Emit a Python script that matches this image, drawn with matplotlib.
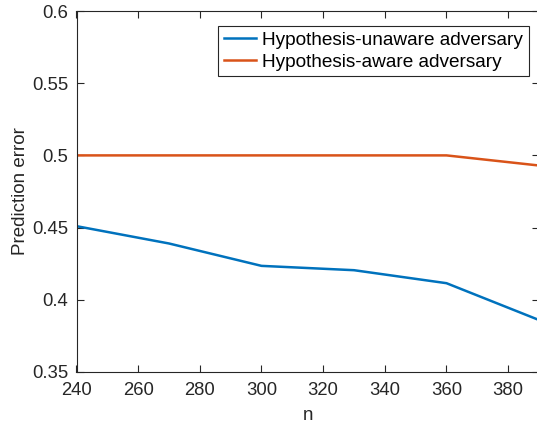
import matplotlib.pyplot as plt

# prediction error versus n for the two adversaries
n_vals = [240, 270, 300, 330, 360, 390]
err_unaware = [0.451, 0.439, 0.4235, 0.4205, 0.4115, 0.386]
err_aware = [0.5, 0.5, 0.5, 0.5, 0.5, 0.493]
labels = ["Hypothesis-unaware adversary", "Hypothesis-aware adversary"]

plt.rcParams['font.family'] = ['Liberation Sans', 'DejaVu Sans']
axis_col = (0.15, 0.15, 0.15)

fig = plt.figure(figsize=(5.37, 4.25), dpi=100)
ax = fig.add_axes([76.5/537, 1 - 372/425, (539 - 76.5)/537, (372 - 11)/425])

ax.plot(n_vals, err_unaware, color=(0, 0.447, 0.741), lw=1.8, label=labels[0])
ax.plot(n_vals, err_aware, color=(0.85, 0.325, 0.098), lw=1.8, label=labels[1])

ax.set_xlim(240, 390)
ax.set_ylim(0.35, 0.6)
ax.set_xticks(range(240, 390, 20))
ax.set_yticks([0.35, 0.4, 0.45, 0.5, 0.55, 0.6])
ax.set_yticklabels(["0.35", "0.4", "0.45", "0.5", "0.55", "0.6"])
ax.tick_params(direction='in', length=5, width=0.8, colors=axis_col,
               labelsize=13.3, top=True, right=True)
ax.tick_params(axis='x', pad=7)
ax.tick_params(axis='y', pad=6)
for s in ax.spines.values():
    s.set_color(axis_col)
    s.set_linewidth(0.8)

ax.set_xlabel("n", fontsize=13.5, color=axis_col, labelpad=6)
ax.set_ylabel("Prediction error", fontsize=13.5, color=axis_col, labelpad=2)

leg = ax.legend(loc='upper right', fontsize=13.7, handlelength=1.7,
                handletextpad=0.3, borderpad=0.3, labelspacing=0.22,
                borderaxespad=0, fancybox=False, framealpha=1,
                bbox_to_anchor=(528.7/537, 1 - 26/425),
                bbox_transform=fig.transFigure)
leg.get_frame().set_edgecolor(axis_col)
leg.get_frame().set_linewidth(0.8)

fig.savefig("out.png", dpi=100)
